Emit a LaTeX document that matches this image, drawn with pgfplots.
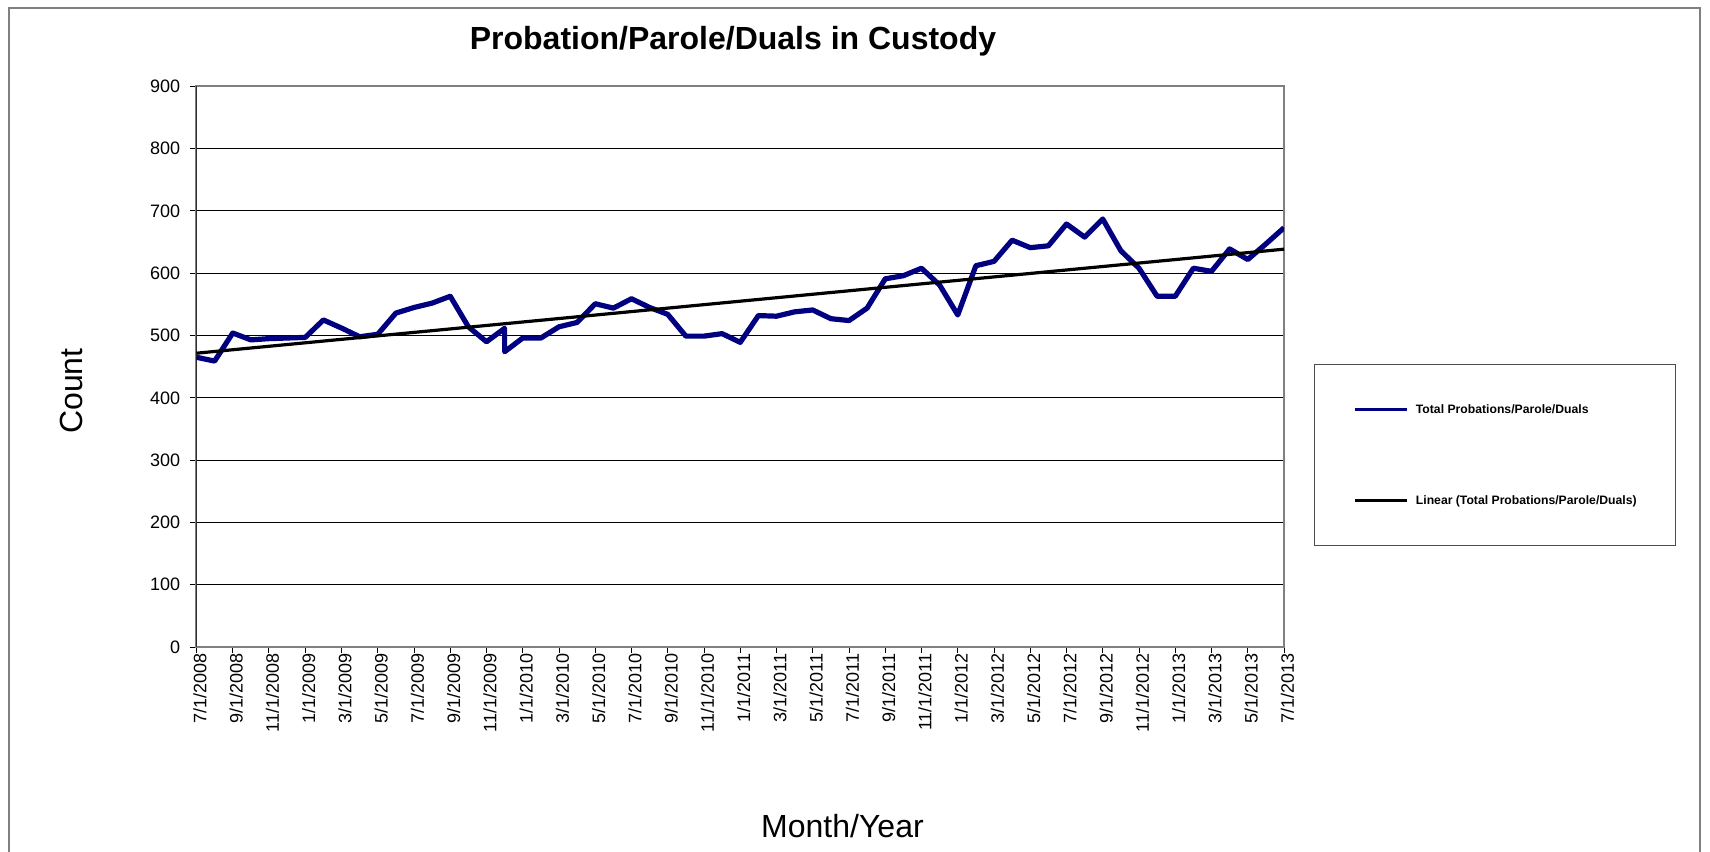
\documentclass[border=0pt]{standalone}
\usepackage{fontspec}
\setmainfont{Liberation Sans}
\usepackage{pgfplots}
\pgfplotsset{compat=1.18}
\definecolor{navyline}{RGB}{0,0,128}
\definecolor{framegray}{RGB}{128,128,128}

\begin{document}
\begin{tikzpicture}
\useasboundingbox (0pt,0pt) rectangle (855pt,-426pt);
\draw[framegray, line width=1pt] (4.5pt,-426pt) -- (4.5pt,-4pt) -- (850pt,-4pt) -- (850pt,-426pt);
\begin{axis}[
  at={(98.25pt,-323.5pt)}, anchor=south west,
  scale only axis, width=543.75pt, height=280.35pt,
  xmin=0, xmax=60, ymin=0, ymax=900,
  ytick={0,100,...,900},
  xtick={0,2,...,60},
  xticklabels={7/1/2008,9/1/2008,11/1/2008,1/1/2009,3/1/2009,5/1/2009,7/1/2009,9/1/2009,11/1/2009,1/1/2010,3/1/2010,5/1/2010,7/1/2010,9/1/2010,11/1/2010,1/1/2011,3/1/2011,5/1/2011,7/1/2011,9/1/2011,11/1/2011,1/1/2012,3/1/2012,5/1/2012,7/1/2012,9/1/2012,11/1/2012,1/1/2013,3/1/2013,5/1/2013,7/1/2013},
  xtick pos=bottom, ytick pos=left,
  tick align=outside, major tick length=3pt,
  tick style={black, line width=0.5pt},
  /pgf/number format/assume math mode=true,
  tick label style={font=\fontsize{9}{10}\selectfont},
  yticklabel style={inner sep=0pt, xshift=-5pt},
  xticklabel style={rotate=90, anchor=east, inner sep=0pt, yshift=-1.75pt},
  ymajorgrids, grid style={black, line width=0.5pt},
  axis line style={framegray, line width=1pt},
  title={Probation/Parole/Duals in Custody},
  every axis title/.style={at={(axis description cs:0.4933,1.0808)}, anchor=center, font=\bfseries\fontsize{16}{19}\selectfont},
  xlabel={Month/Year},
  every axis x label/.style={at={(axis description cs:0.594,-0.319)}, anchor=center, font=\fontsize{16}{19}\selectfont},
  ylabel={Count},
  every axis y label/.style={at={(axis description cs:-0.1145,0.4566)}, rotate=90, anchor=center, font=\fontsize{16}{19}\selectfont},
  legend style={at={(axis description cs:1.0276,0.5047)}, anchor=north west,
    draw=black!70, line width=0.5pt, fill=white,
    inner xsep=19.4pt, inner ysep=19.3pt, row sep=39pt, column sep=3.8pt,
    font=\bfseries\fontsize{6.1}{7}\selectfont,
    nodes={inner sep=0pt, text height=5pt, text depth=1.5pt}},
  legend cell align=left,
  legend image code/.code={\draw[#1, line width=1.5pt] (0pt,0pt) -- (26pt,0pt);},
]
\addplot[navyline, line width=2.6pt, line join=round] coordinates {
(0,465) (1,459) (2,504) (3,493) (4,495) (5,496) (6,497) (7,525) (8,512) (9,498)
(10,502) (11,536) (12,545) (13,552) (14,563) (15,514) (16,490) (17,511.5) (17,474)
(18,496) (19,496) (20,514) (21,521) (22,551) (23,544) (24,559) (25,545) (26,534)
(27,499) (28,499) (29,503) (30,489) (31,532) (32,531) (33,538) (34,541) (35,527)
(36,524) (37,544) (38,591) (39,596) (40,608) (41,581) (42,533) (43,612) (44,619)
(45,653) (46,641) (47,644) (48,679) (49,658) (50,687) (51,636) (52,608) (53,563)
(54,563) (55,608) (56,603) (57,639) (58,622) (59,647) (60,673)
};
\addlegendentry{Total Probations/Parole/Duals}
\addplot[black, line width=1.6pt] coordinates {(0,471.6) (60,638.6)};
\addlegendentry{Linear (Total Probations/Parole/Duals)\hspace{3.4pt}}
\draw[black, line width=1pt] (rel axis cs:0,0) -- (rel axis cs:0,1);
\end{axis}
\end{tikzpicture}
\end{document}
